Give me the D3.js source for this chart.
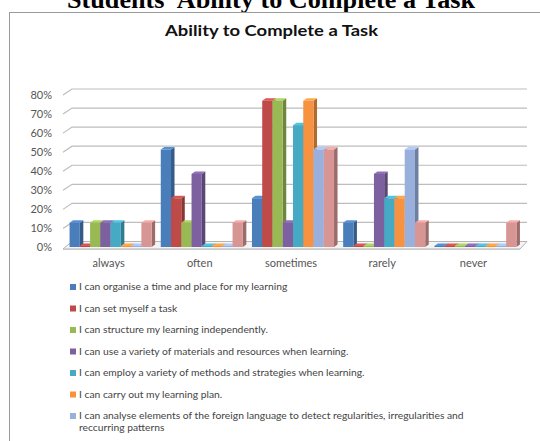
<!DOCTYPE html>
<html>
<head>
<meta charset="utf-8">
<script src="https://cdn.jsdelivr.net/npm/d3@7"></script>
<style>
  body { margin: 0; background: #fff; }
  svg { display: block; }
</style>
</head>
<body>
<div id="chart"></div>
<script>
// categories along the x axis
const categories = ["always", "often", "sometimes", "rarely", "never"];

// one entry per legend item
const seriesNames = [
  "I can organise a time and place for my learning",
  "I can set myself a task",
  "I can structure my learning independently.",
  "I can use a variety of materials and resources when learning.",
  "I can employ a variety of methods and strategies when learning.",
  "I can carry out my learning plan.",
  "I can analyse elements of the foreign language to detect regularities, irregularities and reccurring patterns",
  "I can evaluate my own learning."
];
const seriesColors = ["#4a7ebb", "#be4b48", "#98b954", "#7d60a0", "#46aac5", "#f69240", "#98b0db", "#d79593"];

// values per series, in category order (always, often, sometimes, rarely, never)
const organise  = [0.125, 0.50, 0.25,  0.125, 0];
const setTask   = [0,     0.25, 0.75,  0,     0];
const structure = [0.125, 0.125, 0.75, 0,     0];
const materials = [0.125, 0.375, 0.125, 0.375, 0];
const methods   = [0.125, 0,    0.625, 0.25,  0];
const plan      = [0,     0,    0.75,  0.25,  0];
const analyse   = [0,     0,    0.50,  0.50,  0];
const evaluate  = [0.125, 0.125, 0.50, 0.125, 0.125];
const seriesValues = [organise, setTask, structure, materials, methods, plan, analyse, evaluate];

const yTicks = [0, 0.1, 0.2, 0.3, 0.4, 0.5, 0.6, 0.7, 0.8];

const W = 540, H = 441;
const svg = d3.select("#chart").append("svg").attr("width", W).attr("height", H);

// page title above the chart, cut by the top edge
svg.append("text")
  .attr("x", 271).attr("y", 8)
  .attr("text-anchor", "middle")
  .attr("textLength", 408).attr("lengthAdjust", "spacingAndGlyphs")
  .style("font-family", "Liberation Serif")
  .style("font-weight", "bold")
  .style("font-size", "25px")
  .text("Students' Ability to Complete a Task");

// chart frame
svg.append("rect")
  .attr("x", 9.5).attr("y", 12.5).attr("width", 560).attr("height", 500)
  .attr("fill", "#fff").attr("stroke", "#9a9a9a");

svg.append("text")
  .attr("x", 271.5).attr("y", 36)
  .attr("text-anchor", "middle")
  .attr("textLength", 213).attr("lengthAdjust", "spacingAndGlyphs")
  .style("font-family", "Lato")
  .style("font-weight", "bold")
  .style("font-size", "16px")
  .style("fill", "#111")
  .text("Ability to Complete a Task");

// scales: front face of bars and back wall
const yFront = d3.scaleLinear().domain([0, 0.8]).range([247, 91]);
const yBack = d3.scaleLinear().domain([0, 0.8]).range([241.5, 89]);
const x0 = d3.scaleBand().domain(categories).range([65, 521]).paddingInner(0.1).paddingOuter(0.05);
const x1 = d3.scaleBand().domain(d3.range(seriesNames.length)).range([0, x0.bandwidth()]);

const wallL = 72, wallR = 527, frontL = 63, frontR = 520;

// gridlines on the back wall, with the slanted part on the side wall
const grid = svg.append("g");
yTicks.forEach(function (t) {
  const yb = yBack(t);
  if (t > 0) {
    grid.append("path")
      .attr("d", "M" + frontL + "," + (yb + 6) + "L" + wallL + "," + yb + "L" + wallR + "," + yb)
      .attr("fill", "none").attr("stroke", "#bdbdbd").attr("stroke-width", 1.2);
  }
  grid.append("text")
    .attr("x", 52).attr("y", (t === 0 ? yFront(0) : yb + 6) + 1)
    .attr("text-anchor", "end").attr("dominant-baseline", "middle")
    .style("font-family", "Lato").style("font-size", "11px").style("fill", "#555")
    .text(d3.format(".0%")(t));
});

// floor
svg.append("path")
  .attr("d", "M" + frontL + "," + (yFront(0) + 2) + "L" + frontR + "," + (yFront(0) + 2) +
    "L" + wallR + "," + yBack(0) + "L" + wallL + "," + yBack(0) + "Z")
  .attr("fill", "#f4f4f4").attr("stroke", "#b5b5b5").attr("stroke-width", 1);
svg.append("line")
  .attr("x1", frontL).attr("x2", frontR).attr("y1", yFront(0) + 2.5).attr("y2", yFront(0) + 2.5)
  .attr("stroke", "#c8c8c8");

// bars as simple 3d columns
const depthX = 3.5, depthY = 2.5;
const bars = svg.append("g");
categories.forEach(function (cat, ci) {
  seriesValues.forEach(function (vals, si) {
    const v = vals[ci];
    const c = d3.color(seriesColors[si]);
    const xl = x0(cat) + x1(si), xr = xl + x1.bandwidth();
    const yb = yFront(0), yt = Math.min(yFront(v), yb - 1);
    const g = bars.append("g");
    g.append("path")
      .attr("d", "M" + xr + "," + yt + "L" + (xr + depthX) + "," + (yt - depthY) +
        "L" + (xr + depthX) + "," + (yb - depthY) + "L" + xr + "," + yb + "Z")
      .attr("fill", c.darker(0.9));
    g.append("path")
      .attr("d", "M" + xl + "," + yt + "L" + (xl + depthX) + "," + (yt - depthY) +
        "L" + (xr + depthX) + "," + (yt - depthY) + "L" + xr + "," + yt + "Z")
      .attr("fill", c.brighter(0.4));
    g.append("rect")
      .attr("x", xl).attr("y", yt).attr("width", x1.bandwidth()).attr("height", yb - yt)
      .attr("fill", c);
  });
});

// category labels
svg.append("g").selectAll("text").data(categories).join("text")
  .attr("x", function (d) { return x0(d) + x0.bandwidth() / 2 - 2; })
  .attr("y", 267)
  .attr("text-anchor", "middle")
  .style("font-family", "Lato").style("font-size", "11px").style("fill", "#555")
  .text(function (d) { return d; });

// legend, one item per row
const legend = svg.append("g");
let ly = 287;
seriesNames.forEach(function (name, i) {
  legend.append("rect")
    .attr("x", 70).attr("y", ly - 3).attr("width", 6).attr("height", 6)
    .attr("fill", seriesColors[i]);
  const txt = legend.append("text")
    .attr("x", 79).attr("y", ly)
    .attr("dominant-baseline", "middle")
    .style("font-family", "Lato").style("font-size", "10.3px").style("fill", "#444");
  // wrap long labels
  const words = name.split(" ");
  let line = [], lines = 0;
  let tspan = txt.append("tspan").attr("x", 79).attr("dy", 0);
  words.forEach(function (w) {
    line.push(w);
    tspan.text(line.join(" "));
    if (tspan.node().getComputedTextLength() > 395 && line.length > 1) {
      line.pop();
      tspan.text(line.join(" "));
      line = [w];
      lines++;
      tspan = txt.append("tspan").attr("x", 79).attr("dy", "1.2em").text(w);
    }
  });
  ly += 21.5 + lines * 12;
});
</script>
</body>
</html>
